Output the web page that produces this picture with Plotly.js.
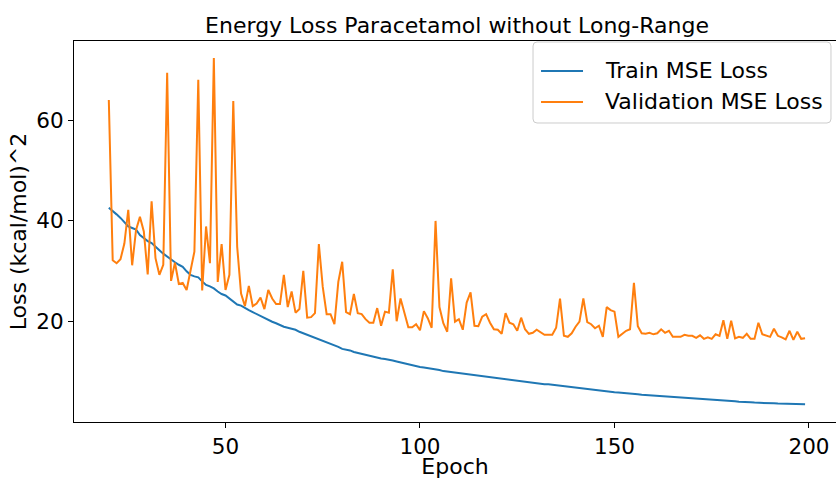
<!DOCTYPE html>
<html>
<head>
<meta charset="utf-8">
<script src="https://cdn.plot.ly/plotly-3.0.1.min.js"></script>
<style>html,body{margin:0;padding:0;background:#fff;overflow:hidden;}</style>
</head>
<body>
<div id="chart" style="width:836px;height:479px;"></div>
<script>
const epochs = [20,21,22,23,24,25,26,27,28,29,30,31,32,33,34,35,36,37,38,39,40,41,42,43,44,45,46,47,48,49,
50,51,52,53,54,55,56,57,58,59,60,61,62,63,64,65,66,67,68,69,70,71,72,73,74,75,76,77,78,79,
80,81,82,83,84,85,86,87,88,89,90,91,92,93,94,95,96,97,98,99,100,101,102,103,104,105,106,107,108,109,
110,111,112,113,114,115,116,117,118,119,120,121,122,123,124,125,126,127,128,129,130,131,132,133,134,135,136,137,138,139,
140,141,142,143,144,145,146,147,148,149,150,151,152,153,154,155,156,157,158,159,160,161,162,163,164,165,166,167,168,169,
170,171,172,173,174,175,176,177,178,179,180,181,182,183,184,185,186,187,188,189,190,191,192,193,194,195,196,197,198,199];

const trainLoss = [42.6,42.0,41.3,40.6,39.8,38.9,38.6,38.3,37.2,36.6,36.0,35.6,34.8,34.2,33.5,32.9,32.4,31.8,31.3,30.9,
30.0,29.3,29.0,28.8,28.0,27.3,27.0,26.6,26.0,25.5,25.2,24.6,24.0,23.4,23.2,22.7,22.3,21.9,21.5,21.2,
20.8,20.4,20.0,19.7,19.3,19.0,18.8,18.6,18.4,18.0,17.7,17.4,17.1,16.8,16.5,16.2,16.0,15.7,15.4,15.0,
14.6,14.5,14.3,14.0,13.8,13.6,13.4,13.2,13.0,12.9,12.7,12.6,12.5,12.3,12.1,11.9,11.8,11.6,11.4,11.2,
11.0,10.9,10.8,10.7,10.5,10.4,10.2,10.1,10.0,9.9,9.8,9.7,9.6,9.5,9.3,9.2,9.1,9.0,8.9,8.8,
8.7,8.6,8.5,8.4,8.3,8.3,8.2,8.1,8.0,7.9,7.8,7.7,7.6,7.6,7.5,7.4,7.3,7.2,7.2,7.1,
7.0,6.9,6.8,6.7,6.6,6.5,6.4,6.25,6.2,6.1,6.0,5.95,5.9,5.8,5.7,5.65,5.6,5.5,5.45,5.4,
5.35,5.3,5.2,5.15,5.1,5.05,5.0,4.95,4.9,4.85,4.8,4.7,4.65,4.6,4.55,4.5,4.45,4.4,4.35,4.3,
4.25,4.2,4.1,4.1,4.05,4.0,3.95,3.95,3.9,3.85,3.8,3.8,3.75,3.75,3.7,3.7,3.65,3.65,3.6,3.6];

const valLoss = [64.0,32.2,31.6,32.4,35.5,42.2,31.2,38.2,40.8,37.9,29.4,43.9,32.6,29.3,31.3,69.4,28.1,31.7,27.5,27.7,
26.3,30.3,33.9,68.0,26.2,38.9,31.6,72.3,27.9,35.4,26.3,29.3,63.8,34.9,25.6,23.1,27.1,23.1,23.6,24.8,
22.5,26.3,24.6,23.5,23.5,29.3,22.9,26.0,21.8,22.5,30.1,20.8,20.9,21.7,35.4,26.9,21.5,21.5,19.5,27.9,
31.9,21.9,21.5,25.5,21.7,21.5,20.5,19.8,19.8,22.7,19.2,22.0,21.8,30.4,20.1,24.6,21.8,18.9,18.9,19.5,
18.3,22.1,20.7,18.8,40.0,22.9,19.7,18.0,28.6,20.0,20.5,18.4,23.8,25.8,19.2,19.1,21.0,21.5,19.8,18.5,
18.4,17.6,21.7,19.8,19.5,18.2,20.8,18.5,17.6,17.8,18.4,17.9,17.4,17.4,17.4,18.8,24.6,17.2,17.0,17.7,
19.0,20.0,24.6,19.9,19.5,18.7,19.2,17.0,22.9,22.3,22.0,17.0,17.6,18.2,18.5,27.7,19.1,17.7,17.6,17.8,
17.5,17.7,18.5,17.8,18.2,17.0,17.0,17.0,17.4,17.2,17.2,16.8,17.3,16.6,16.9,16.6,17.5,17.2,20.3,16.6,
20.2,16.7,17.0,16.8,17.6,16.6,16.6,19.8,17.5,17.3,17.0,18.6,17.2,16.9,16.5,18.2,16.4,18.0,16.6,16.7];

const xTicks = [50, 100, 150, 200];
const yTicks = [20, 40, 60];
const seriesNames = ['Train MSE Loss', 'Validation MSE Loss'];
const seriesColors = ['#1f77b4', '#ff7f0e'];
const chartTitle = 'Energy Loss Paracetamol without Long-Range';
const xLabel = 'Epoch';
const yLabel = 'Loss (kcal/mol)^2';

const FONT = 'DejaVu Sans, sans-serif';
const FS = 22;
const TFS = 21.5;

const traces = [
  {x: epochs, y: trainLoss, type: 'scatter', mode: 'lines', name: seriesNames[0],
   line: {color: seriesColors[0], width: 2}},
  {x: epochs, y: valLoss, type: 'scatter', mode: 'lines', name: seriesNames[1],
   line: {color: seriesColors[1], width: 2}}
];

const axisCommon = {
  showline: true, linecolor: '#000', linewidth: 1, mirror: true,
  ticks: 'outside', ticklen: 5, tickwidth: 1, tickcolor: '#000',
  showgrid: false, zeroline: false,
  tickfont: {family: FONT, size: TFS, color: '#000'}
};

// legend frame (paper coords of plot area)
const rx = 4 / 762, ry = 4 / 381;
const L = 0.6024, R = 0.9934, T = 0.9974, B = 0.7848;
const framePath = `M ${L+rx},${T} L ${R-rx},${T} Q ${R},${T} ${R},${T-ry} L ${R},${B+ry} Q ${R},${B} ${R-rx},${B} ` +
                  `L ${L+rx},${B} Q ${L},${B} ${L},${B+ry} L ${L},${T-ry} Q ${L},${T} ${L+rx},${T} Z`;

const legRowY = [0.9213, 0.8399];
const legLineX = [0.6129, 0.6680];
const legTextX = 0.6942;

const shapes = [{type: 'path', xref: 'paper', yref: 'paper', path: framePath,
                 fillcolor: 'rgba(255,255,255,0.8)', line: {color: '#cccccc', width: 1}, layer: 'above'}];
const annotations = [];
seriesNames.forEach((nm, i) => {
  shapes.push({type: 'line', xref: 'paper', yref: 'paper', x0: legLineX[0], x1: legLineX[1],
               y0: legRowY[i], y1: legRowY[i], line: {color: seriesColors[i], width: 2}, layer: 'above'});
  annotations.push({xref: 'paper', yref: 'paper', x: legTextX, y: legRowY[i], xanchor: 'left', yanchor: 'middle',
                    text: nm, showarrow: false, font: {family: FONT, size: FS, color: '#000'}});
});

const layout = {
  width: 836, height: 479,
  margin: {l: 74, r: 0, t: 41, b: 57, pad: 0},
  paper_bgcolor: '#fff', plot_bgcolor: '#fff',
  font: {family: FONT, size: FS, color: '#000'},
  title: {text: chartTitle, font: {family: FONT, size: FS, color: '#000'},
          x: 0.5467, xanchor: 'center', y: 0.948, yanchor: 'middle'},
  xaxis: Object.assign({}, axisCommon, {
    range: [11.05, 206.95], tickvals: xTicks, ticktext: xTicks.map(String),
    title: {text: xLabel, font: {family: FONT, size: FS, color: '#000'}, standoff: 5}
  }),
  yaxis: Object.assign({}, axisCommon, {
    range: [0.1, 75.7], tickvals: yTicks, ticktext: yTicks.map(String),
    title: {text: yLabel, font: {family: FONT, size: FS, color: '#000'}, standoff: 3}
  }),
  shapes: shapes,
  annotations: annotations,
  showlegend: false
};

Plotly.newPlot('chart', traces, layout, {displayModeBar: false, staticPlot: true});
</script>
</body>
</html>
